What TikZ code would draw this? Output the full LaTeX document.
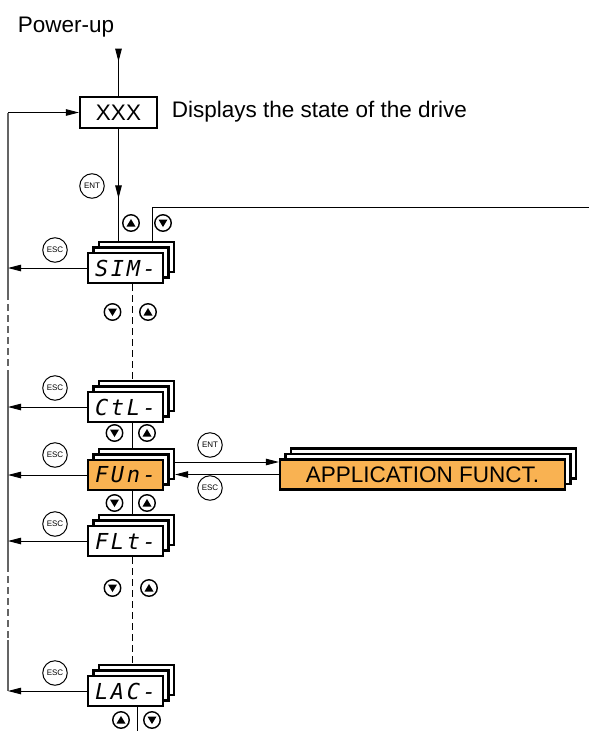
\documentclass[tikz,border=0pt]{standalone}
\usepackage{fontspec}
\setmainfont{Liberation Sans}
\newfontfamily\segfont[LetterSpace=12]{DejaVu Sans Mono}
\usetikzlibrary{arrows.meta,positioning,calc,decorations.markings}

\definecolor{funorange}{RGB}{249,178,82}
\definecolor{feedgray}{RGB}{100,100,100}

\tikzset{
    dispbox/.style={draw, line width=2.2pt, fill=white, minimum width=75pt,
        minimum height=30pt, inner sep=0pt,
        font=\segfont\itshape\fontsize{22}{22}\selectfont},
    xbox/.style={draw, line width=2.2pt, minimum width=77pt, minimum height=31pt, inner sep=0pt},
    keybtn/.style={circle, draw, line width=1pt, minimum size=24.5pt, inner sep=0pt,
        font=\fontsize{8}{8}\selectfont},
    upbtn/.style={circle, draw, line width=1.4pt, minimum size=16.5pt, inner sep=0pt,
        path picture={\fill ([shift={(0,-4)}]path picture bounding box.center)
            -- ([shift={(4.5,3.5)}]path picture bounding box.center)
            -- ([shift={(-4.5,3.5)}]path picture bounding box.center) -- cycle;}},
    dnbtn/.style={circle, draw, line width=1.4pt, minimum size=16.5pt, inner sep=0pt,
        path picture={\fill ([shift={(0,4)}]path picture bounding box.center)
            -- ([shift={(4.5,-3.5)}]path picture bounding box.center)
            -- ([shift={(-4.5,-3.5)}]path picture bounding box.center) -- cycle;}},
    feedline/.style={feedgray, line width=1.5pt},
    menudash/.style={dash pattern=on 7pt off 4pt},
    midarrow/.style={postaction={decorate}, decoration={markings,
        mark=at position #1 with {\arrow{>}}}}
}

% stack of three display boxes: [box options]{name}{x,y}{front options}{text}
\newcommand{\menustack}[5][]{%
    \node[dispbox,#1] (#2-3) at ($(#3)+(11,-11)$) {};
    \node[dispbox,#1] (#2-2) at ($(#3)+(5.5,-5.5)$) {};
    \node[dispbox,#1,#4] (#2) at (#3) {#5};
}

\begin{document}
\begin{tikzpicture}[
    x=1pt, y=-1pt,
    >={Triangle[length=13pt,width=6.5pt]},
    line width=0.9pt,
    font=\fontsize{22.5}{27}\selectfont
]
    \useasboundingbox (0,0) rectangle (589,731);

    % --- power-up and state display ---
    \node[anchor=base west] (pwrtxt) at (14,32) {Power-up};
    \coordinate (pwr) at (118.5,49);
    \node[xbox] (xxx) at (118.5,112.5) {XXX};
    \node[anchor=base west] (disptxt) at (168,117) {Displays the state of the drive};

    % --- menu stacks ---
    \menustack{sin}{125.5,268}{}{SIM-}
    \menustack{ctl}{125.5,407}{}{CtL-}
    \menustack{fun}{125.5,475}{fill=funorange}{FUn-}
    \menustack{flt}{125.5,541}{}{FLt-}
    \menustack{lac}{125.5,691}{}{LAC-}
    \menustack[minimum width=285pt]{app}{422.5,474.5}
        {fill=funorange, font=\fontsize{22.5}{27}\selectfont}{APPLICATION FUNCT.}

    % --- keys ---
    \node[keybtn] (entA) at (92,186) {ENT};
    \node[keybtn] (escA) at (55,250) {ESC};
    \node[keybtn] (escB) at (55,388) {ESC};
    \node[keybtn] (escC) at (55,455) {ESC};
    \node[keybtn] (escD) at (55,524) {ESC};
    \node[keybtn] (escE) at (55,673) {ESC};
    \node[keybtn] (entB) at (210,445) {ENT};
    \node[keybtn] (escF) at (210,488) {ESC};

    \node[upbtn] (upA) at (131,223) {};
    \node[dnbtn] (dnA) at (163,223) {};
    \node[dnbtn] (dnB) at (112.5,312) {};
    \node[upbtn] (upB) at (148,312) {};
    \node[dnbtn] (dnC) at (114.5,433) {};
    \node[upbtn] (upC) at (147,433) {};
    \node[dnbtn] (dnD) at (114.5,503) {};
    \node[upbtn] (upD) at (147,503) {};
    \node[dnbtn] (dnE) at (112.5,588) {};
    \node[upbtn] (upE) at (149,588) {};
    \node[upbtn] (upF) at (121,720) {};
    \node[dnbtn] (dnF) at (152,720) {};

    % --- main path down ---
    \draw[midarrow=0.27] (pwr) -- (xxx.north);
    \draw[midarrow=0.62] (xxx.south) -- (xxx.south |- sin-3.north);
    \coordinate (exitR) at (589,207);
    \draw ([xshift=15.5pt]sin-3.north) |- (exitR);

    \draw[menudash] ([xshift=6.5pt]sin.south) -- ([xshift=-4.5pt]ctl-3.north);
    \draw ([xshift=6.5pt]ctl.south) -- ([xshift=-4.5pt]fun-3.north);
    \draw ([xshift=6.5pt]fun.south) -- ([xshift=-4.5pt]flt-3.north);
    \draw[menudash] ([xshift=6.5pt]flt.south) -- ([xshift=-4.5pt]lac-3.north);
    \coordinate (lacend) at (137,731);
    \draw ([xshift=11.5pt]lac.south) -- (lacend);

    % --- ENT / ESC to the sub menu ---
    \draw[->] ([yshift=2pt]fun-3.east) -- ([yshift=2pt]fun-3.east -| app.west);
    \draw[->] (app.west) -- (app.west -| fun-3.east);

    % --- ESC return line on the left ---
    \coordinate (fbtop) at (8,112.5);
    \draw[feedline] (fbtop) -- (8,293);
    \draw[feedline, menudash] (8,293) -- (8,375);
    \draw[feedline] (8,375) -- (8,565);
    \draw[feedline, menudash] (8,565) -- (8,640);
    \draw[feedline] (8,640) -- (fbtop |- lac.west);
    \draw[->] (fbtop) -- (xxx.west);
    \draw[->] (sin.west) -- (sin.west -| fbtop);
    \draw[->] (ctl.west) -- (ctl.west -| fbtop);
    \draw[->] (fun.west) -- (fun.west -| fbtop);
    \draw[->] (flt.west) -- (flt.west -| fbtop);
    \draw[->] (lac.west) -- (lac.west -| fbtop);
\end{tikzpicture}
\end{document}
